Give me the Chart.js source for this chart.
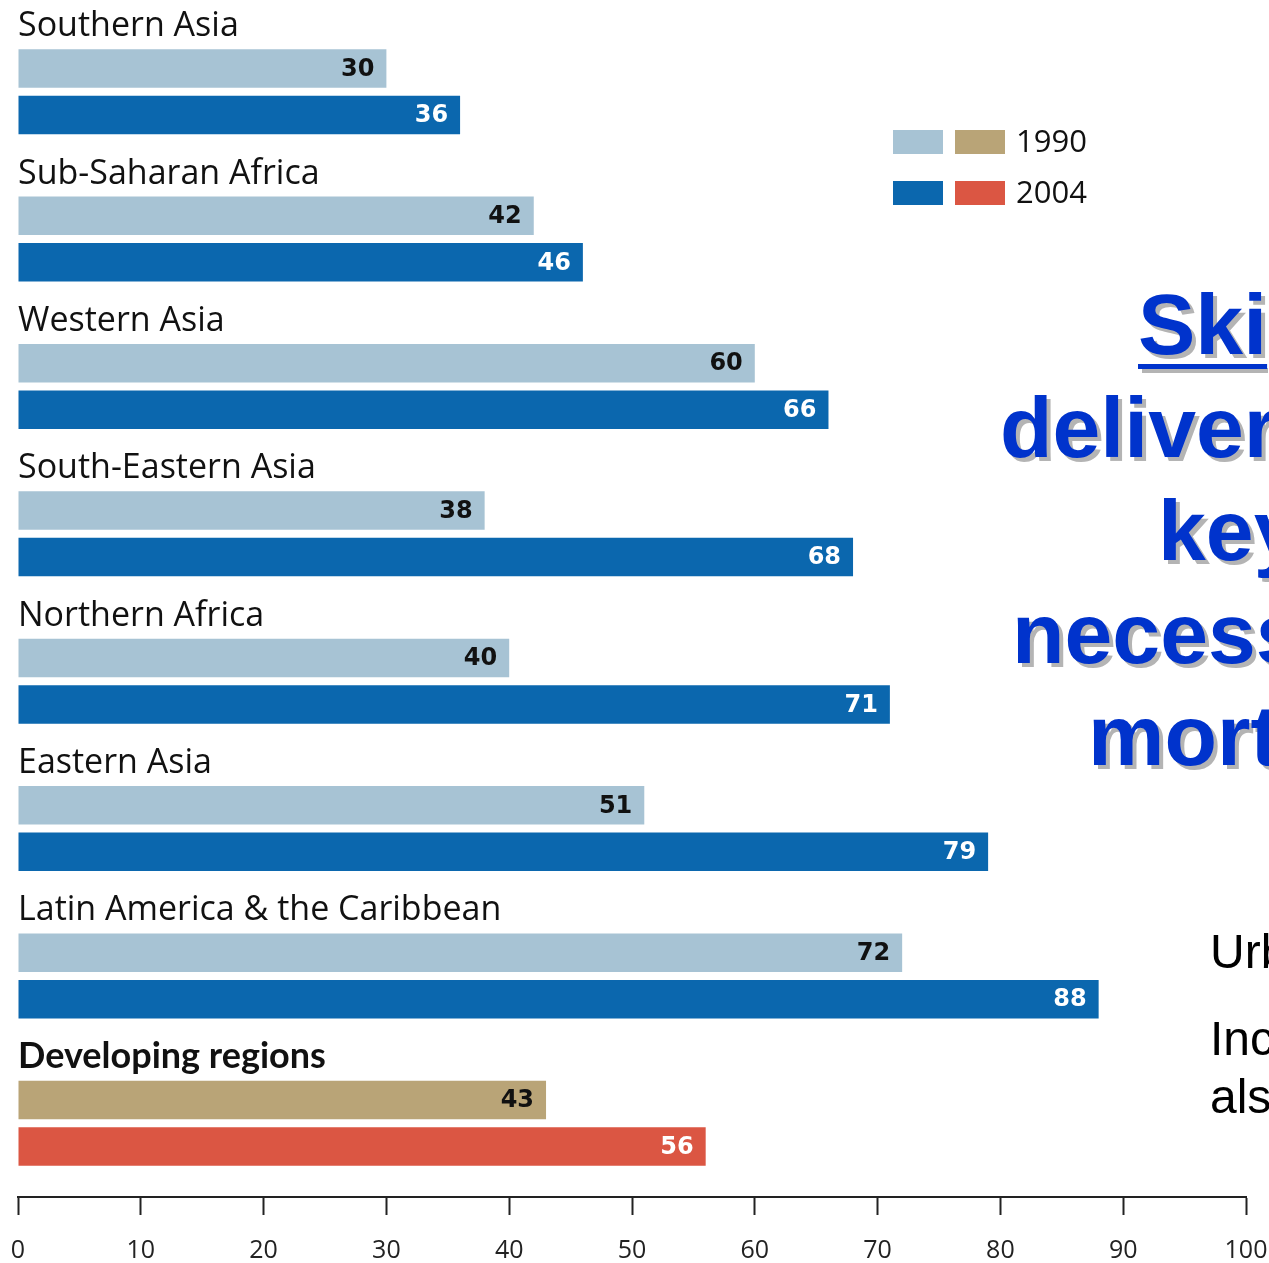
<!DOCTYPE html>
<html>
<head>
<meta charset="utf-8">
<script src="https://cdn.jsdelivr.net/npm/chart.js@4"></script>
<style>
  html, body { margin: 0; padding: 0; background: #fff; }
  body { width: 1269px; height: 1263px; overflow: hidden; position: relative; }
  #chartBox { position: absolute; left: 0; top: 0; width: 1269px; height: 1263px; }
  .slide-title {
    position: absolute; white-space: nowrap;
    font-family: "Liberation Sans", Arial, sans-serif; font-weight: bold;
    font-size: 86px; line-height: 86px; color: #0033cc;
    text-shadow: 4px 4px 0 #b4b4b4;
  }
  .slide-body {
    position: absolute; white-space: nowrap;
    font-family: "Liberation Sans", Arial, sans-serif;
    font-size: 48px; line-height: 48px; color: #000;
  }
</style>
</head>
<body>
<div id="chartBox"><canvas id="waterChart" width="1269" height="1263"></canvas></div>

<div class="slide-title" style="left:1138px; top:281px; text-decoration: underline; text-decoration-thickness: 5px; text-underline-offset: 10px;">Ski</div>
<div class="slide-title" style="left:1000px; top:384px;">deliver</div>
<div class="slide-title" style="left:1158px; top:487px;">key</div>
<div class="slide-title" style="left:1012px; top:590px;">necess</div>
<div class="slide-title" style="left:1088px; top:692px;">mort</div>

<div class="slide-body" style="left:1210px; top:928px;">Urb</div>
<div class="slide-body" style="left:1210px; top:1015px;">Inc</div>
<div class="slide-body" style="left:1210px; top:1073px;">als</div>

<script>
const regions = [
    'Southern Asia',
    'Sub-Saharan Africa',
    'Western Asia',
    'South-Eastern Asia',
    'Northern Africa',
    'Eastern Asia',
    'Latin America & the Caribbean',
    'Developing regions'
];
const values1990 = [30, 42, 60, 38, 40, 51, 72, 43];
const values2004 = [36, 46, 66, 68, 71, 79, 88, 56];
const xTicks = [0, 10, 20, 30, 40, 50, 60, 70, 80, 90, 100];
const legendYears = ['1990', '2004'];

// regional bars are blue, the developing-regions total gets its own pair
const light = '#a7c3d4', dark = '#0b67ae';
const tan = '#b9a477', red = '#db5643';
const colors1990 = regions.map((r, i) => i === regions.length - 1 ? tan : light);
const colors2004 = regions.map((r, i) => i === regions.length - 1 ? red : dark);

const regularFont = '"Open Sans", "Noto Sans", sans-serif';
const boldFont = 'Lato, "Open Sans", sans-serif';
const valueFont = '"DejaVu Sans", sans-serif';

// region names above each pair and values inside the bar ends
const barLabels = {
    id: 'barLabels',
    afterDatasetsDraw(chart) {
        const ctx = chart.ctx;
        const m1990 = chart.getDatasetMeta(0);
        const m2004 = chart.getDatasetMeta(1);
        ctx.save();
        ctx.textBaseline = 'alphabetic';
        regions.forEach((name, i) => {
            const top = m1990.data[i].y - m1990.data[i].height / 2;
            const last = i === regions.length - 1;
            ctx.font = last ? 'bold 36px ' + boldFont : '34px ' + regularFont;
            ctx.fillStyle = '#111';
            ctx.textAlign = 'left';
            ctx.fillText(name, chart.chartArea.left, top - 13);
        });
        ctx.font = 'bold 24px ' + valueFont;
        ctx.textAlign = 'right';
        ctx.textBaseline = 'middle';
        [[m1990, '#111'], [m2004, '#fff']].forEach(([meta, col]) => {
            meta.data.forEach((bar, i) => {
                const v = chart.data.datasets[meta.index].data[i];
                ctx.fillStyle = col;
                ctx.fillText(String(v), bar.x - 12, bar.y + 1);
            });
        });
        ctx.restore();
    }
};

// two swatches per year: regional colour, then developing-regions colour
const pairedLegend = {
    id: 'pairedLegend',
    afterDraw(chart) {
        const ctx = chart.ctx;
        const x0 = 893, y0 = 130, rowGap = 51;
        const swatches = [[light, tan], [dark, red]];
        ctx.save();
        ctx.font = '31px ' + regularFont;
        ctx.textBaseline = 'middle';
        ctx.textAlign = 'left';
        legendYears.forEach((yr, r) => {
            const y = y0 + r * rowGap;
            ctx.fillStyle = swatches[r][0];
            ctx.fillRect(x0, y, 50, 24);
            ctx.fillStyle = swatches[r][1];
            ctx.fillRect(x0 + 62, y, 50, 24);
            ctx.fillStyle = '#111';
            ctx.fillText(yr, x0 + 123, y + 13);
        });
        ctx.restore();
    }
};

new Chart(document.getElementById('waterChart').getContext('2d'), {
    type: 'bar',
    data: {
        labels: regions,
        datasets: [
            { label: '1990', data: values1990, backgroundColor: colors1990 },
            { label: '2004', data: values2004, backgroundColor: colors2004 }
        ]
    },
    options: {
        indexAxis: 'y',
        responsive: false,
        animation: false,
        layout: { padding: { left: 18, right: 23, top: 18, bottom: 0 } },
        datasets: { bar: { categoryPercentage: 0.631, barPercentage: 0.828 } },
        plugins: {
            legend: { display: false },
            tooltip: { enabled: false }
        },
        scales: {
            y: { display: false },
            x: {
                min: 0,
                max: 100,
                afterBuildTicks(axis) { axis.ticks = xTicks.map(v => ({ value: v })); },
                afterFit(axis) {
                    // keep the axis flush with the layout padding
                    axis.paddingLeft = 0;
                    axis.paddingRight = 0;
                    axis.height = 66;
                },
                border: { display: true, color: '#222', width: 2 },
                grid: { drawOnChartArea: false, drawTicks: true, tickLength: 18, tickColor: '#222', tickWidth: 2 },
                ticks: { color: '#222', padding: 21, maxRotation: 0, font: { family: regularFont, size: 25 } }
            }
        }
    },
    plugins: [barLabels, pairedLegend]
});
</script>
</body>
</html>
